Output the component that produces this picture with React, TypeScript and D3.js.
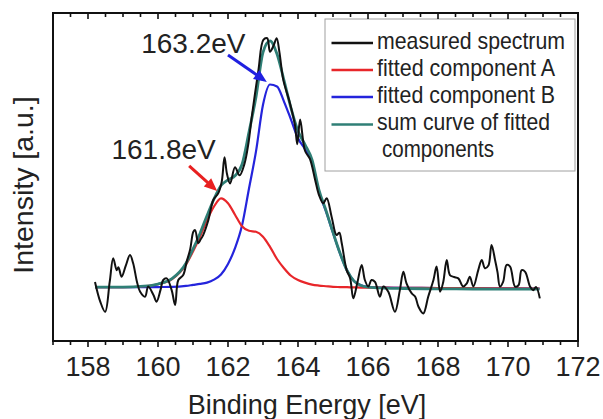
import React from "react";
import * as d3 from "d3";

// ---------- data ----------
const xTicksMajor = [158, 160, 162, 164, 166, 168, 170, 172];
const xDomain = [157, 172];
const yDomain = [0, 100];

const measuredEnergy = [
  158.2, 158.35, 158.49, 158.62, 158.72, 158.82, 158.87, 158.96, 159.08, 159.2,
  159.29, 159.4, 159.49, 159.63, 159.72, 159.87, 159.96, 160.07, 160.15, 160.25,
  160.39, 160.49, 160.58, 160.72, 160.82, 160.92, 161.01, 161.06, 161.15, 161.22,
  161.29, 161.44, 161.58, 161.72, 161.82, 161.9, 161.97, 162.06, 162.2, 162.33,
  162.47, 162.58, 162.68, 162.87, 163.01, 163.12, 163.2, 163.3, 163.39, 163.47,
  163.58, 163.77, 163.91, 163.98, 164.06, 164.2, 164.34, 164.49, 164.6, 164.72,
  164.82, 164.96, 165.1, 165.18, 165.25, 165.39, 165.49, 165.58, 165.7, 165.82,
  165.91, 166.01, 166.1, 166.2, 166.34, 166.44, 166.58, 166.77, 166.91, 167.01,
  167.1, 167.25, 167.35, 167.44, 167.58, 167.72, 167.87, 167.96, 168.06, 168.15,
  168.25, 168.34, 168.46, 168.58, 168.72, 168.82, 168.91, 169.01, 169.15, 169.25,
  169.34, 169.44, 169.53, 169.63, 169.7, 169.77, 169.86, 169.96, 170.06, 170.2,
  170.3, 170.39, 170.49, 170.63, 170.72, 170.8, 170.91,
];
const measuredIntensity = [
  18.0, 12.0, 8.9, 18.0, 25.2, 21.6, 22.5, 19.6, 23.0, 26.2,
  23.7, 18.0, 15.0, 13.5, 16.6, 14.0, 12.0, 15.5, 18.6, 19.1,
  15.5, 11.0, 18.6, 20.1, 24.2, 28.0, 33.3, 33.8, 29.8, 31.0,
  32.3, 36.9, 43.0, 45.0, 48.5, 56.0, 51.0, 48.0, 53.0, 50.5,
  54.0, 60.0, 68.4, 82.6, 91.8, 92.3, 88.2, 90.0, 92.3, 88.0,
  79.6, 72.5, 66.0, 60.0, 67.5, 58.0, 55.5, 49.1, 44.5, 42.0,
  43.5, 37.9, 32.3, 33.0, 29.8, 21.6, 19.1, 13.0, 18.0, 23.2,
  18.6, 16.6, 18.6, 18.0, 13.5, 16.6, 15.0, 8.9, 15.5, 21.1,
  17.6, 14.5, 13.5, 10.5, 8.4, 13.5, 18.6, 22.7, 15.0, 18.0,
  24.7, 20.1, 19.5, 19.1, 16.6, 17.5, 19.6, 16.6, 21.6, 24.7,
  22.2, 23.0, 29.3, 24.7, 21.0, 16.6, 18.0, 23.2, 22.7, 16.6,
  17.0, 21.6, 21.1, 16.6, 15.5, 16.5, 13.0,
];

const fitEnergy = [
  158.2, 158.6, 159.0, 159.6, 160.0, 160.4, 160.8, 161.0, 161.2, 161.4,
  161.6, 161.8, 162.0, 162.2, 162.4, 162.6, 162.8, 163.0, 163.2, 163.4,
  163.6, 163.8, 164.0, 164.2, 164.4, 164.6, 164.8, 165.0, 165.2, 165.4,
  165.6, 165.8, 166.0, 166.5, 167.0, 168.0, 169.0, 170.0, 170.9,
];
const componentA = [
  16.4, 16.4, 16.4, 16.7, 17.3, 18.9, 23.3, 27.3, 31.8, 36.8,
  41.0, 43.5, 42.0, 38.5, 35.0, 33.6, 33.3, 31.8, 28.7, 25.0,
  22.2, 19.9, 18.6, 17.8, 17.2, 16.9, 16.7, 16.5, 16.45, 16.4,
  16.35, 16.3, 16.3, 16.25, 16.2, 16.15, 16.1, 16.05, 16.0,
];
const componentB = [
  16.4, 16.4, 16.4, 16.4, 16.45, 16.5, 16.8, 17.1, 17.4, 17.8,
  18.7, 20.3, 23.5, 28.3, 35.2, 46.5, 57.8, 72.0, 78.2, 77.6,
  73.0, 67.5, 61.8, 58.5, 54.5, 45.5, 39.5, 33.0, 26.7, 21.5,
  18.3, 17.0, 16.5, 16.25, 16.2, 16.15, 16.1, 16.05, 16.0,
];
const sumCurve = [
  16.4, 16.4, 16.4, 16.7, 17.35, 19.0, 23.7, 28.0, 32.8, 38.2,
  43.3, 47.4, 49.1, 50.4, 53.8, 63.7, 74.4, 88.0, 91.5, 87.5,
  79.5, 71.0, 64.0, 59.9, 55.3, 46.0, 39.8, 33.1, 26.8, 21.5,
  18.25, 16.9, 16.4, 16.1, 16.0, 15.9, 15.85, 15.8, 15.8,
];

const legendLabels = [
  "measured spectrum",
  "fitted component A",
  "fitted component B",
  "sum curve of fitted",
];
const legendColors = ["#111111", "#e8262a", "#2424dc", "#2f7f76"];

// annotations: [label, labelX(eV), labelY, arrowFromX, arrowFromY, arrowToX, arrowToY]
const annotLabels = ["163.2eV", "161.8eV"];
const annotLabelPos = [
  [159.52, 87.8],
  [158.67, 55.4],
];
const annotArrowFrom = [
  [162.0, 87.2],
  [160.89, 53.4],
];
const annotArrowTo = [
  [163.11, 79.0],
  [161.69, 45.7],
];
const annotColors = ["#2020e0", "#e82020"];

// ---------- layout ----------
const W = 603;
const H = 419;
const left = 53;
const right = 578;
const top = 13;
const bottom = 341;
const FONT = "'Liberation Sans', Arial, Helvetica, sans-serif";

export default function App() {
  const x = d3.scaleLinear().domain(xDomain).range([left, right]);
  const y = d3.scaleLinear().domain(yDomain).range([bottom, top]);

  const smooth = d3
    .line<[number, number]>()
    .x((d) => x(d[0]))
    .y((d) => y(d[1]))
    .curve(d3.curveMonotoneX);
  const jagged = d3
    .line<[number, number]>()
    .x((d) => x(d[0]))
    .y((d) => y(d[1]))
    .curve(d3.curveCatmullRom.alpha(0.5));

  const zipFit = (vals: number[]) =>
    fitEnergy.map((e, i) => [e, vals[i]] as [number, number]);
  const measured = measuredEnergy.map(
    (e, i) => [e, measuredIntensity[i]] as [number, number]
  );

  const minorTicks = d3.range(xDomain[0], xDomain[1] + 0.001, 0.5);

  const arrowHead = (x1: number, y1: number, x2: number, y2: number) => {
    const ang = Math.atan2(y2 - y1, x2 - x1);
    const L = 13;
    const Wd = 5.5;
    const bx = x2 - L * Math.cos(ang);
    const by = y2 - L * Math.sin(ang);
    const px = -Math.sin(ang) * Wd;
    const py = Math.cos(ang) * Wd;
    return `M${x2},${y2}L${bx + px},${by + py}L${bx - px},${by - py}Z`;
  };

  const legendRowsY = [43, 70, 97, 124.5];
  const legendTextY = [48.5, 76, 103, 130];
  const legendTextLen = [188, 178, 178, 173];

  return (
    <svg
      width={W}
      height={H}
      style={{ position: "fixed", left: 0, top: 0, background: "#fff" }}
      fontFamily={FONT}
    >
      <rect x={0} y={0} width={W} height={H} fill="#fff" />

      {/* curves */}
      <path d={smooth(zipFit(componentB)) || ""} fill="none" stroke={legendColors[2]} strokeWidth={2.2} />
      <path d={smooth(zipFit(componentA)) || ""} fill="none" stroke={legendColors[1]} strokeWidth={2.2} />
      <path d={smooth(zipFit(sumCurve)) || ""} fill="none" stroke={legendColors[3]} strokeWidth={2.8} />
      <path d={jagged(measured) || ""} fill="none" stroke={legendColors[0]} strokeWidth={2} strokeLinejoin="round" />

      {/* legend */}
      <rect x={325} y={19} width={250} height={152} fill="#fff" fillOpacity={0.9} stroke="#a0a0a0" strokeWidth={1} />
      {legendLabels.map((lab, i) => (
        <g key={lab}>
          <line x1={331.5} x2={373} y1={legendRowsY[i]} y2={legendRowsY[i]} stroke={legendColors[i]} strokeWidth={2.6} />
          <text
            x={377}
            y={legendTextY[i]}
            fontSize={24}
            fill="#222"
            textLength={legendTextLen[i]}
            lengthAdjust="spacingAndGlyphs"
          >
            {lab}
          </text>
        </g>
      ))}
      <text x={382} y={157} fontSize={24} fill="#222" textLength={112} lengthAdjust="spacingAndGlyphs">
        components
      </text>

      {/* annotations */}
      {annotLabels.map((lab, i) => {
        const x1 = x(annotArrowFrom[i][0]);
        const y1 = y(annotArrowFrom[i][1]);
        const x2 = x(annotArrowTo[i][0]);
        const y2 = y(annotArrowTo[i][1]);
        const ang = Math.atan2(y2 - y1, x2 - x1);
        return (
          <g key={lab}>
            <text x={x(annotLabelPos[i][0])} y={y(annotLabelPos[i][1])} fontSize={28} fill="#222">
              {lab}
            </text>
            <line
              x1={x1}
              y1={y1}
              x2={x2 - 10 * Math.cos(ang)}
              y2={y2 - 10 * Math.sin(ang)}
              stroke={annotColors[i]}
              strokeWidth={3}
            />
            <path d={arrowHead(x1, y1, x2, y2)} fill={annotColors[i]} />
          </g>
        );
      })}

      {/* frame */}
      <rect x={left} y={top} width={right - left} height={bottom - top} fill="none" stroke="#111" strokeWidth={2} />

      {/* ticks */}
      {minorTicks.map((t) => {
        const major = xTicksMajor.includes(t);
        const len = major ? 6 : 4;
        return (
          <g key={t}>
            <line x1={x(t)} x2={x(t)} y1={bottom} y2={bottom + len} stroke="#111" strokeWidth={1.6} />
            <line x1={x(t)} x2={x(t)} y1={top} y2={top + len} stroke="#111" strokeWidth={1.6} />
          </g>
        );
      })}
      {xTicksMajor.map((t) => (
        <text key={t} x={x(t)} y={376} fontSize={27} textAnchor="middle" fill="#222">
          {t}
        </text>
      ))}

      {/* axis titles */}
      <text x={307} y={414} fontSize={27} textAnchor="middle" fill="#222">
        Binding Energy [eV]
      </text>
      <text
        transform={`translate(33,185) rotate(-90)`}
        fontSize={28.5}
        textAnchor="middle"
        fill="#222"
      >
        Intensity [a.u.]
      </text>
    </svg>
  );
}
